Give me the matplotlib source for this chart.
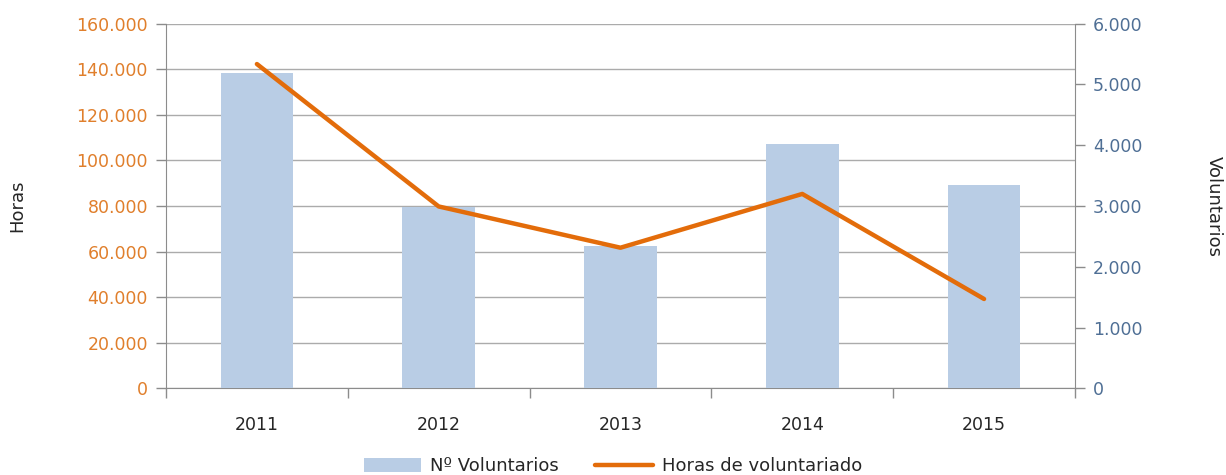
"""Voluntarios y horas de voluntariado, 2011-2015."""

import matplotlib

matplotlib.use("Agg")

import matplotlib.pyplot as plt
from matplotlib.ticker import FuncFormatter, MultipleLocator, FixedLocator, NullFormatter

years = ["2011", "2012", "2013", "2014", "2015"]
voluntarios = [5190, 2990, 2340, 4020, 3345]
horas = [142300, 79800, 61700, 85300, 39200]

BAR_COLOR = "#B9CDE5"
LINE_COLOR = "#E36C0A"
LEFT_TICK_COLOR = "#E07F2C"
RIGHT_TICK_COLOR = "#4F6F95"
GRID_COLOR = "#ABABAB"
SPINE_COLOR = "#8C8C8C"

plt.rcParams["font.family"] = ["DejaVu Sans"]


def thousands(value, _pos):
    return f"{int(round(value)):,}".replace(",", ".")


fig = plt.figure(figsize=(12.26, 4.75), dpi=100)
ax = fig.add_axes([0.1354, 0.1825, 0.7414, 0.7676])
ax_bars = ax.twinx()
ax_line = ax.twinx()

x = list(range(len(years)))

# left axis: grid + Horas ticks
ax.set_xlim(-0.5, len(years) - 0.5)
ax.set_ylim(0, 160000)
ax.yaxis.set_major_locator(MultipleLocator(20000))
ax.yaxis.set_major_formatter(FuncFormatter(thousands))
ax.grid(axis="y", color=GRID_COLOR, linewidth=1.0)
ax.tick_params(axis="y", colors=SPINE_COLOR, labelcolor=LEFT_TICK_COLOR,
               labelsize=12.5, length=7, width=1, pad=6)
ax.set_ylabel("Horas", fontsize=13, color="#262626", labelpad=36)
ax.xaxis.set_major_locator(FixedLocator([i - 0.5 for i in range(len(years) + 1)]))
ax.xaxis.set_major_formatter(NullFormatter())
ax.xaxis.set_minor_locator(FixedLocator(x))
ax.xaxis.set_minor_formatter(FuncFormatter(lambda v, p: years[int(round(v))]))
ax.tick_params(axis="x", which="major", colors=SPINE_COLOR, length=7, width=1)
ax.tick_params(axis="x", which="minor", length=0, labelsize=12.5,
               labelcolor="#262626", pad=20)

# bars: Nº Voluntarios on right axis
bars = ax_bars.bar(x, voluntarios, width=0.4, color=BAR_COLOR, label="Nº Voluntarios", zorder=2)
ax_bars.set_ylim(0, 6000)
ax_bars.yaxis.set_major_locator(MultipleLocator(1000))
ax_bars.yaxis.set_major_formatter(FuncFormatter(thousands))
ax_bars.tick_params(axis="y", colors=SPINE_COLOR, labelcolor=RIGHT_TICK_COLOR,
                    labelsize=12.5, length=7, width=1, pad=6)
ax_bars.set_ylabel("Voluntarios", fontsize=13, color="#262626", rotation=-90, labelpad=58)

# line: Horas de voluntariado on the left scale, drawn above the bars
(line,) = ax_line.plot(x, horas, color=LINE_COLOR, linewidth=3.2,
                       solid_capstyle="round", label="Horas de voluntariado")
ax_line.set_ylim(ax.get_ylim())
ax_line.set_yticks([])
ax_line.set_xlim(ax.get_xlim())

for a in (ax, ax_bars, ax_line):
    a.spines["top"].set_visible(False)
    for side in ("left", "right", "bottom"):
        a.spines[side].set_color(SPINE_COLOR)
ax_line.spines["left"].set_visible(False)
ax_line.spines["right"].set_visible(False)
ax_line.spines["bottom"].set_visible(False)
ax_bars.spines["left"].set_visible(False)
ax_bars.spines["bottom"].set_visible(False)
ax.spines["right"].set_visible(False)

fig.legend(handles=[bars, line], labels=["Nº Voluntarios", "Horas de voluntariado"],
           loc="center", bbox_to_anchor=(0.5, 0.018), ncol=2, frameon=False,
           fontsize=13, handlelength=3.2, handleheight=0.8, columnspacing=2.0,
           handletextpad=0.5, labelcolor="#262626")

fig.savefig("out.png", dpi=100)
